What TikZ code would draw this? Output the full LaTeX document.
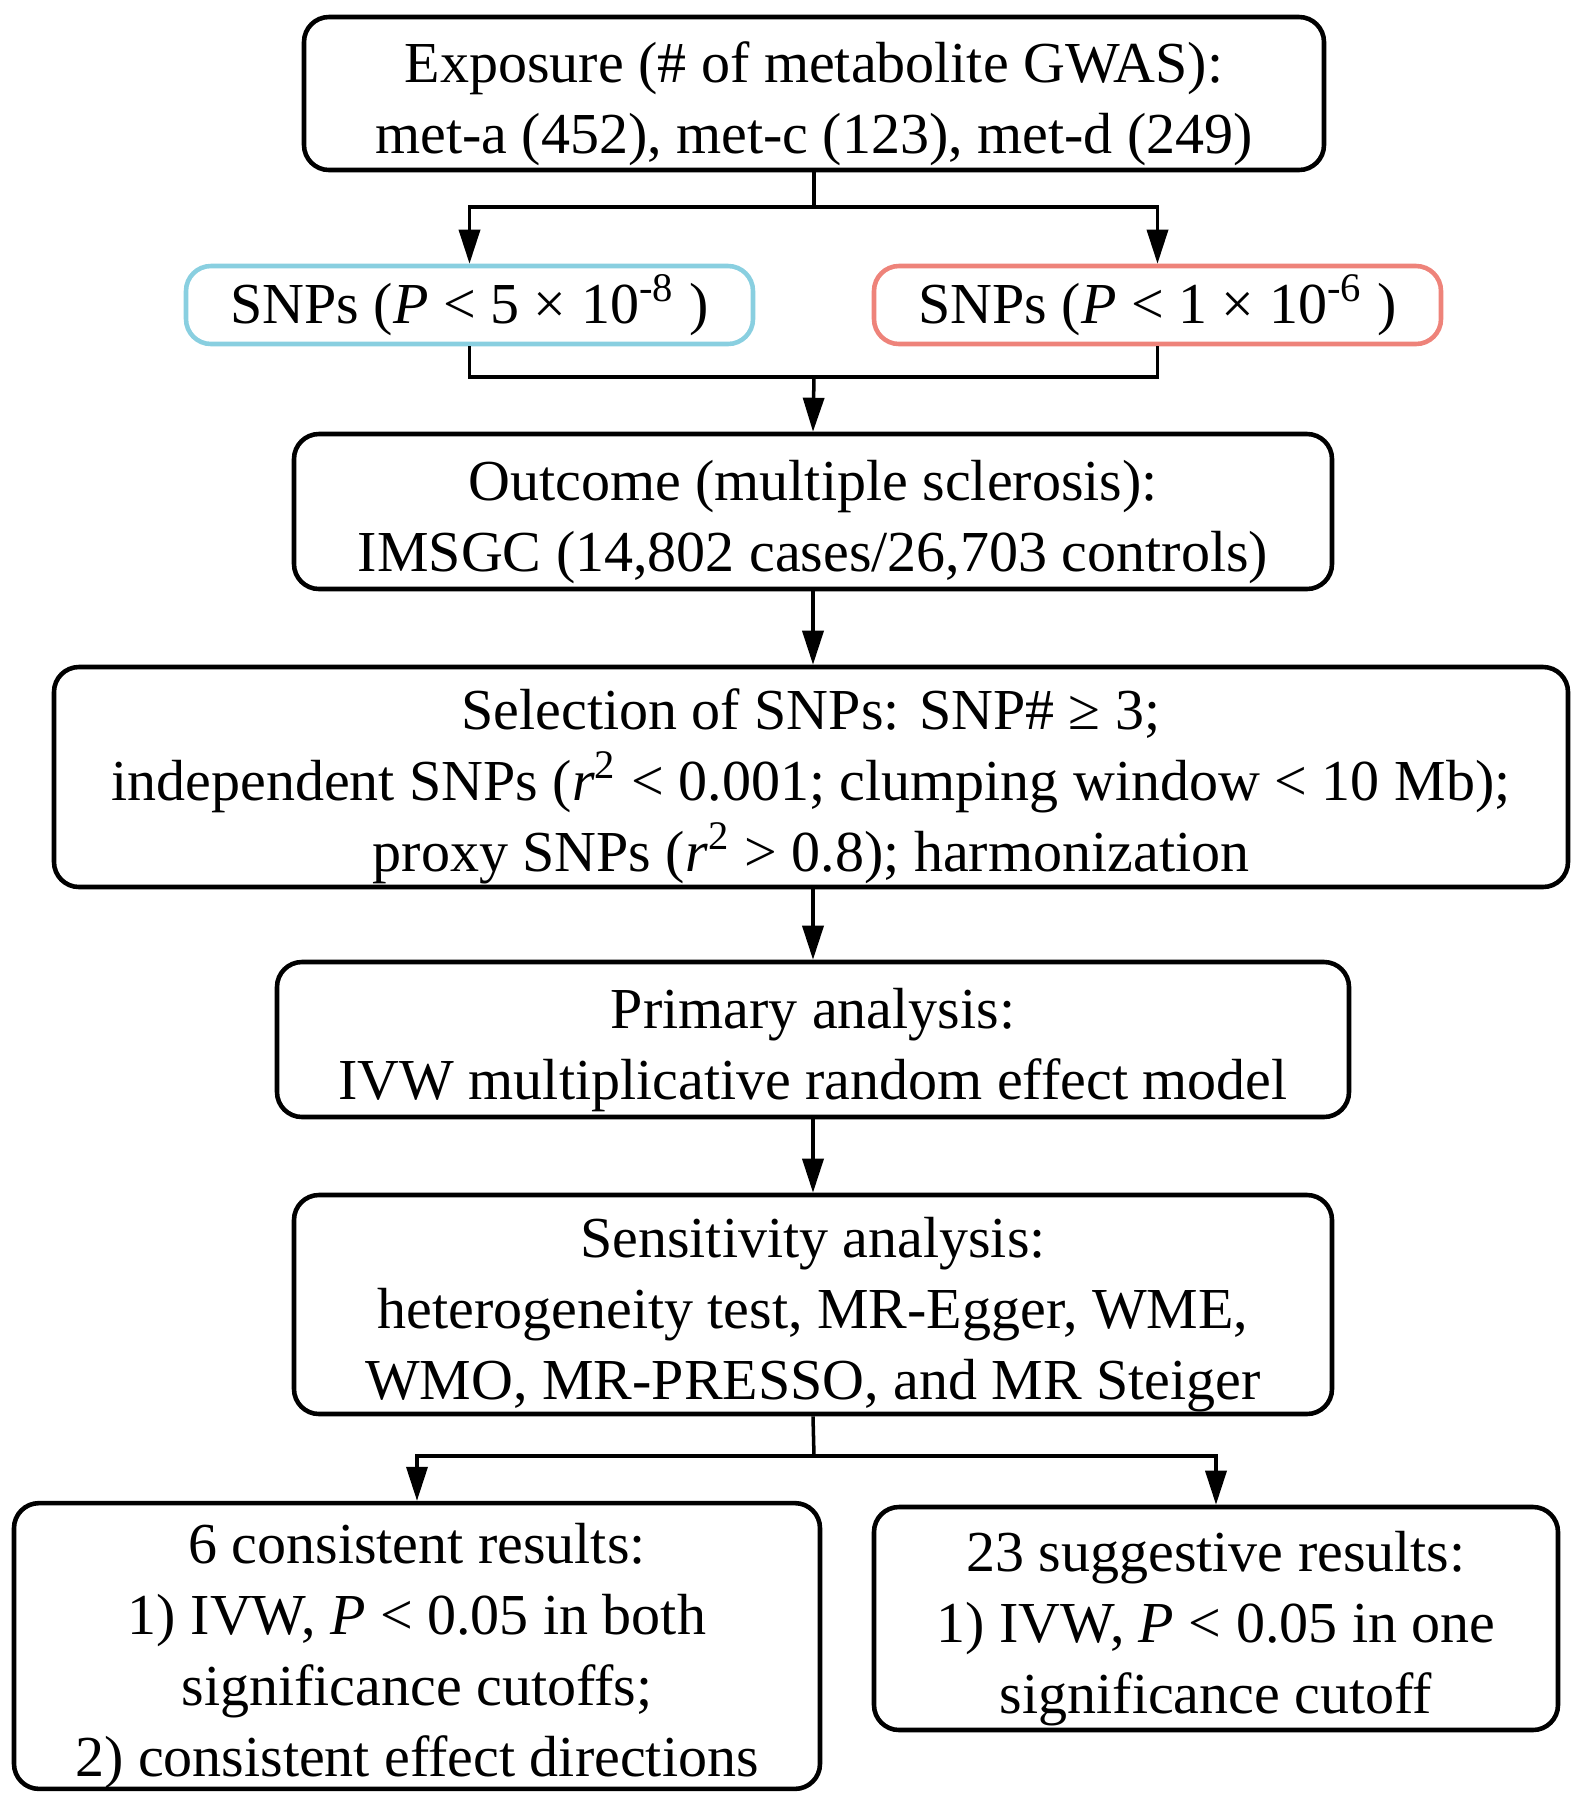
\documentclass[tikz,border=0pt]{standalone}
\usepackage{fontspec}
\setmainfont{Liberation Serif}
\usetikzlibrary{arrows.meta,positioning}
\definecolor{cutblue}{RGB}{137,207,224}
\definecolor{cutred}{RGB}{238,131,122}
\newcommand{\toppad}{\rule{0pt}{17.2pt}}

\begin{document}
\begin{tikzpicture}
            \tikzstyle{box} = [draw=black, line width=1.3pt, rounded corners=0.25cm, align=center, inner sep=0pt, font=\fontsize{16.5}{20.2}\selectfont]
            \tikzstyle{flow} = [line width=1pt, draw=black]
            \tikzstyle{arr} = [flow, -{Triangle[length=0.34cm, width=0.21cm]}]
            \useasboundingbox (0, 0) rectangle (15.75, -18);
            \node[box, minimum width=10.2cm, minimum height=1.53cm] (expo) at (8.14, -0.935) {\toppad Exposure (\# of metabolite GWAS):\\met-a (452), met-c (123), met-d (249)};
            \node[box, draw=cutblue, minimum width=5.67cm, minimum height=0.78cm] (snpa) at (4.695, -3.05) {SNPs (\textit{P} < 5 × 10\textsuperscript{-8} )};
            \node[box, draw=cutred, minimum width=5.67cm, minimum height=0.78cm] (snpb) at (11.575, -3.05) {SNPs (\textit{P} < 1 × 10\textsuperscript{-6} )};
            \node[box, minimum width=10.38cm, minimum height=1.55cm] (outc) at (8.13, -5.115) {\toppad Outcome (multiple sclerosis):\\IMSGC (14,802 cases/26,703 controls)};
            \node[box, minimum width=15.14cm, minimum height=2.2cm] (sel) at (8.11, -7.77) {\toppad Selection of SNPs: SNP\# ≥ 3;\\independent SNPs (\textit{r}\textsuperscript{2} < 0.001; clumping window < 10 Mb);\\proxy SNPs (\textit{r}\textsuperscript{2} > 0.8); harmonization};
            \node[box, minimum width=10.72cm, minimum height=1.55cm] (prim) at (8.13, -10.395) {\toppad Primary analysis:\\IVW multiplicative random effect model};
            \node[box, minimum width=10.38cm, minimum height=2.19cm] (sens) at (8.13, -13.045) {\toppad Sensitivity analysis:\\heterogeneity test, MR-Egger, WME,\\WMO, MR-PRESSO, and MR Steiger};
            \node[box, minimum width=8.06cm, minimum height=2.78cm] (cons) at (4.17, -16.46) {\toppad 6 consistent results:\\1) IVW, \textit{P} < 0.05 in both\\significance cutoffs;\\2) consistent effect directions};
            \node[box, minimum width=6.84cm, minimum height=2.23cm] (sugg) at (12.16, -16.185) {\toppad 23 suggestive results:\\1) IVW, \textit{P} < 0.05 in one\\significance cutoff};
            \coordinate (j1) at (8.14, -2.07);
            \coordinate (j2) at (8.14, -3.77);
            \coordinate (j3) at (8.14, -14.56);
            \draw[flow] (expo.south) -- (j1);
            \draw[arr] (j1) -| (snpa.north);
            \draw[arr] (j1) -| (snpb.north);
            \draw[flow] (snpa.south) |- (j2) -| (snpb.south);
            \draw[arr] (j2) -- (outc.north);
            \draw[arr] (outc.south) -- (sel.north -| outc.south);
            \draw[arr] (sel.south -| prim.north) -- (prim.north);
            \draw[arr] (prim.south) -- (sens.north);
            \draw[flow] (sens.south) -- (j3);
            \draw[arr] (j3) -| (cons.north);
            \draw[arr] (j3) -| (sugg.north);
        \end{tikzpicture}
\end{document}
